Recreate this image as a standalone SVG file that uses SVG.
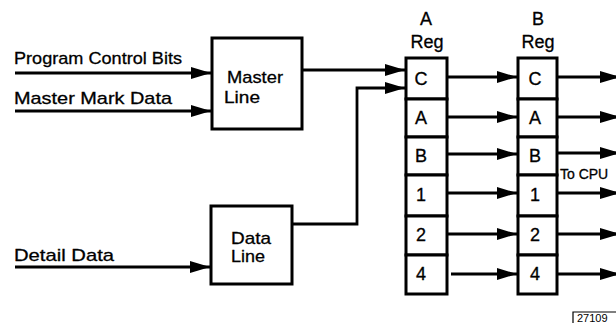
<svg xmlns="http://www.w3.org/2000/svg" width="616" height="328" viewBox="0 0 616 328">
<style>
text{font-family:"Liberation Sans","DejaVu Sans",sans-serif;fill:#000;font-size:17px;stroke:#000;stroke-width:0.3}
.box{fill:#fff;stroke:#000;stroke-width:3}
.ln{fill:none;stroke:#000;stroke-width:2.8}
.c{text-anchor:middle}
.big{font-size:18px}
</style>
<defs>
<marker id="ah" markerWidth="20" markerHeight="12" refX="20" refY="6" orient="auto" markerUnits="userSpaceOnUse">
<path d="M0,0 L20,6 L0,12 Z" fill="#000"/>
</marker>
</defs>
<rect width="616" height="328" fill="#fff"/>
<g id="connectors">
<path class="ln" d="M15,73 H211" marker-end="url(#ah)"/>
<path class="ln" d="M15,111 H211" marker-end="url(#ah)"/>
<path class="ln" d="M15,267 H210" marker-end="url(#ah)"/>
<path class="ln" d="M302,70 H405" marker-end="url(#ah)"/>
<path class="ln" d="M292,224 H357 V88 H405" marker-end="url(#ah)"/>
<path class="ln" d="M447,77 H517" marker-end="url(#ah)"/>
<path class="ln" d="M447,117 H517" marker-end="url(#ah)"/>
<path class="ln" d="M447,154 H517" marker-end="url(#ah)"/>
<path class="ln" d="M447,193 H517" marker-end="url(#ah)"/>
<path class="ln" d="M447,234 H517" marker-end="url(#ah)"/>
<path class="ln" d="M451,274 H517" marker-end="url(#ah)"/>
<path class="ln" d="M557,77 H620" marker-end="url(#ah)"/>
<path class="ln" d="M557,117 H620" marker-end="url(#ah)"/>
<path class="ln" d="M557,153 H620" marker-end="url(#ah)"/>
<path class="ln" d="M557,193 H620" marker-end="url(#ah)"/>
<path class="ln" d="M557,234 H620" marker-end="url(#ah)"/>
<path class="ln" d="M557,274 H620" marker-end="url(#ah)"/>
</g>
<g id="inputs">
<text x="14" y="64" textLength="168" lengthAdjust="spacingAndGlyphs">Program Control Bits</text>
<text x="14" y="104" textLength="158" lengthAdjust="spacingAndGlyphs">Master Mark Data</text>
<text x="14" y="261" textLength="100" lengthAdjust="spacingAndGlyphs">Detail Data</text>
</g>
<g id="master-line">
<rect class="box" x="212" y="38" width="90" height="91"/>
<text x="227" y="83" textLength="56" lengthAdjust="spacingAndGlyphs">Master</text>
<text x="224" y="103" textLength="36" lengthAdjust="spacingAndGlyphs">Line</text>
</g>
<g id="data-line">
<rect class="box" x="211" y="206" width="81" height="78"/>
<text x="231" y="244" textLength="40" lengthAdjust="spacingAndGlyphs">Data</text>
<text x="231" y="262" textLength="34" lengthAdjust="spacingAndGlyphs">Line</text>
</g>
<g id="a-reg">
<text class="c big" x="426" y="25">A</text>
<text class="c big" x="427" y="48">Reg</text>
<rect class="box" x="406" y="58" width="41" height="41"/>
<rect class="box" x="406" y="99" width="41" height="38"/>
<rect class="box" x="406" y="137" width="41" height="38"/>
<rect class="box" x="406" y="175" width="41" height="41"/>
<rect class="box" x="406" y="216" width="41" height="39"/>
<rect class="box" x="406" y="255" width="41" height="39"/>
<text class="c big" x="421" y="85">C</text>
<text class="c big" x="421" y="124">A</text>
<text class="c big" x="421" y="162">B</text>
<text class="c big" x="421" y="201">1</text>
<text class="c big" x="421" y="241">2</text>
<text class="c big" x="421" y="280">4</text>
</g>
<g id="b-reg">
<text class="c big" x="538" y="25">B</text>
<text class="c big" x="538" y="48">Reg</text>
<rect class="box" x="518" y="58" width="39" height="41"/>
<rect class="box" x="518" y="99" width="39" height="38"/>
<rect class="box" x="518" y="137" width="39" height="38"/>
<rect class="box" x="518" y="175" width="39" height="41"/>
<rect class="box" x="518" y="216" width="39" height="39"/>
<rect class="box" x="518" y="255" width="39" height="39"/>
<text class="c big" x="535" y="85">C</text>
<text class="c big" x="535" y="124">A</text>
<text class="c big" x="535" y="162">B</text>
<text class="c big" x="535" y="201">1</text>
<text class="c big" x="535" y="241">2</text>
<text class="c big" x="535" y="280">4</text>
</g>
<g id="to-cpu">
<text x="560" y="179" style="font-size:14px">To CPU</text>
</g>
<g id="fig-number">
<path d="M573,323 V312 H616" fill="none" stroke="#000" stroke-width="1.2"/>
<text x="577" y="322" style="font-size:11px;stroke-width:0">27109</text>
</g>
</svg>
